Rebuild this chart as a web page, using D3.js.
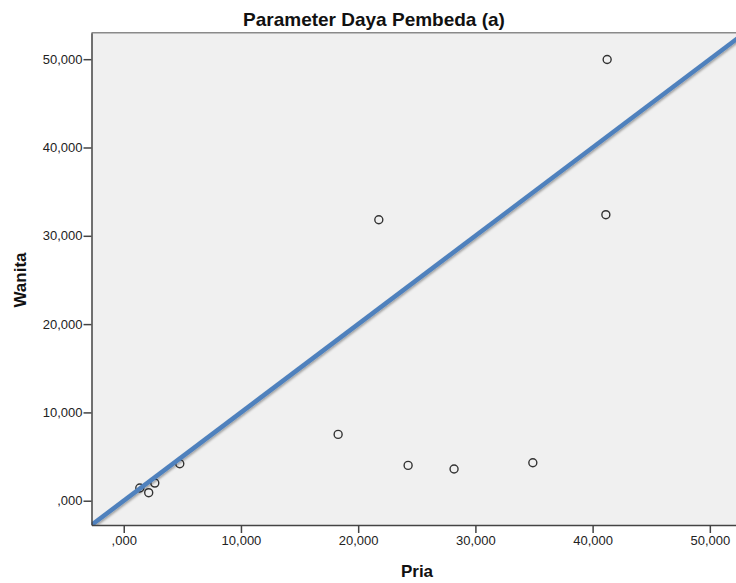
<!DOCTYPE html>
<html>
<head>
<meta charset="utf-8">
<script src="https://cdn.jsdelivr.net/npm/d3@7"></script>
<style>
  html, body { margin: 0; padding: 0; background: #fff; }
  svg { display: block; font-family: "Liberation Sans", Arial, sans-serif; }
</style>
</head>
<body>
<svg id="chart" width="736" height="583"></svg>
<script>
// Scores of each item for the two groups
const pria   = [1.37, 2.13, 2.65, 4.78, 18.29, 21.76, 24.26, 28.18, 34.90, 41.13, 41.24];
const wanita = [1.44, 0.91, 2.00, 4.19, 7.51, 31.82, 4.00, 3.59, 4.30, 32.39, 49.97];
const tickValues = [0, 10, 20, 30, 40, 50];
const title = "Parameter Daya Pembeda (a)";
const xLabel = "Pria";
const yLabel = "Wanita";

const points = pria.map((p, i) => ({ x: p, y: wanita[i] }));

const svg = d3.select("#chart");
const domain = [-2.75, 53];
const x = d3.scaleLinear().domain(domain).range([91.5, 745]);
const y = d3.scaleLinear().domain(domain).range([525, 32.7]);

// Decimal comma, leading zero dropped for values below one
const f3 = d3.format(".3f");
const fmt = v => { let s = f3(v).replace(".", ","); return s.startsWith("0,") ? s.slice(1) : s; };

const defs = svg.append("defs");
defs.append("clipPath").attr("id", "plotClip")
  .append("rect")
  .attr("x", x(domain[0])).attr("y", y(domain[1]))
  .attr("width", x(domain[1]) - x(domain[0]))
  .attr("height", y(domain[0]) - y(domain[1]));
const shadow = defs.append("filter").attr("id", "lineShadow")
  .attr("x", "-5%").attr("y", "-5%").attr("width", "110%").attr("height", "110%");
shadow.append("feDropShadow")
  .attr("dx", 1).attr("dy", 1.5).attr("stdDeviation", 1)
  .attr("flood-color", "#000").attr("flood-opacity", 0.35);

// Plot background
svg.append("rect")
  .attr("x", x(domain[0])).attr("y", y(domain[1]))
  .attr("width", x(domain[1]) - x(domain[0]))
  .attr("height", y(domain[0]) - y(domain[1]))
  .attr("fill", "#f0f0f0");

// Top frame line
svg.append("line")
  .attr("x1", x(domain[0])).attr("x2", x(domain[1]))
  .attr("y1", y(domain[1])).attr("y2", y(domain[1]))
  .attr("stroke", "#8a8a8a").attr("stroke-width", 1.5);

const plot = svg.append("g").attr("clip-path", "url(#plotClip)");

// Data points
plot.selectAll("circle.pt").data(points).join("circle")
  .attr("class", "pt")
  .attr("cx", d => x(d.x)).attr("cy", d => y(d.y))
  .attr("r", 4)
  .attr("fill", "none")
  .attr("stroke", "#333")
  .attr("stroke-width", 1.4);

// Reference line y = x
plot.append("line")
  .attr("x1", x(domain[0])).attr("y1", y(domain[0]))
  .attr("x2", x(domain[1])).attr("y2", y(domain[1]))
  .attr("stroke", "#4f81bd").attr("stroke-width", 4.5)
  .attr("filter", "url(#lineShadow)");

// Axes
const xAxis = d3.axisBottom(x).tickValues(tickValues).tickFormat(fmt).tickSize(8).tickSizeOuter(0).tickPadding(3);
const yAxis = d3.axisLeft(y).tickValues(tickValues).tickFormat(fmt).tickSize(8).tickSizeOuter(0).tickPadding(1);

const gx = svg.append("g").attr("transform", `translate(0,${y(domain[0])})`).call(xAxis);
const gy = svg.append("g").attr("transform", `translate(${x(domain[0])},0)`).call(yAxis);

[gx, gy].forEach(g => {
  g.select(".domain").attr("stroke", "#444").attr("stroke-width", 1.5);
  g.selectAll(".tick line").attr("stroke", "#444").attr("stroke-width", 1.5);
  g.selectAll(".tick text")
    .attr("fill", "#222")
    .style("font-size", "13px")
    .style("font-family", "'Liberation Sans', Arial, sans-serif");
});

// Title and axis titles
svg.append("text")
  .attr("x", 374).attr("y", 26)
  .attr("text-anchor", "middle")
  .style("font-size", "19px").style("font-weight", "bold")
  .attr("fill", "#111")
  .text(title);

svg.append("text")
  .attr("x", 417).attr("y", 577)
  .attr("text-anchor", "middle")
  .style("font-size", "17px").style("font-weight", "bold")
  .attr("fill", "#111")
  .text(xLabel);

svg.append("text")
  .attr("transform", "translate(26,280) rotate(-90)")
  .attr("text-anchor", "middle")
  .style("font-size", "17px").style("font-weight", "bold")
  .attr("fill", "#111")
  .text(yLabel);
</script>
</body>
</html>
